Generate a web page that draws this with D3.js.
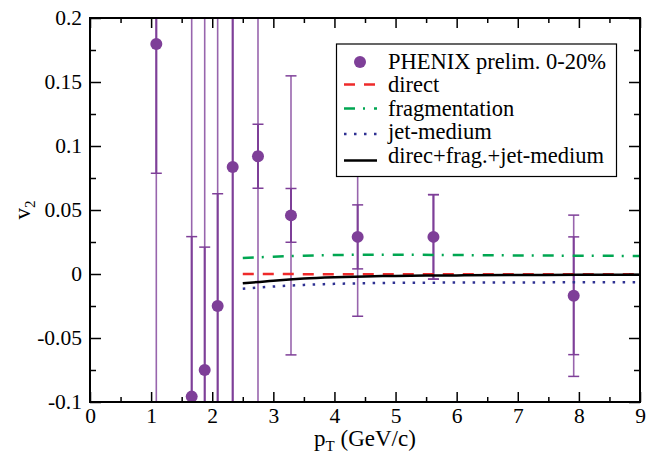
<!DOCTYPE html>
<html>
<head>
<meta charset="utf-8">
<script src="https://cdn.jsdelivr.net/npm/d3@7"></script>
<style>
  body { margin: 0; background: #fff; }
  svg text { font-family: "Liberation Serif", "Times New Roman", serif; fill: #000; }
</style>
</head>
<body>
<svg id="chart" width="653" height="455"></svg>
<script>
"use strict";

// PHENIX prelim. 0-20% (inner = stat, outer = total)
const ptData   = [1.085, 1.664, 1.877, 2.089, 2.335, 2.749, 3.289, 4.38, 5.62, 7.915]
const v2Data   = [0.1797, -0.0958, -0.075, -0.025, 0.0836, 0.092, 0.0458, 0.029, 0.029, -0.017]
const errInner = [0.101, 0.125, 0.096, 0.0877, 0.2, 0.025, 0.021, 0.025, 0.033, 0.046]
const errOuter = [0.35, 0.35, 0.35, 0.35, 0.35, 0.3, 0.109, 0.062, 0.033, 0.063]

// model curves
const ptModel     = [2.5, 3, 3.5, 4, 4.5, 5, 6, 7, 8, 9]
const v2Direct    = [0.0, 0.0, -0.0001, -0.0001, -0.0001, -0.0002, -0.0002, -0.0002, -0.0002, -0.0002]
const v2Frag      = [0.0125, 0.0135, 0.0143, 0.0148, 0.015, 0.015, 0.0148, 0.0145, 0.0143, 0.0141]
const v2JetMedium = [-0.0115, -0.0098, -0.0085, -0.0077, -0.0072, -0.0069, -0.0067, -0.0066, -0.0065, -0.0065]
const v2Total     = [-0.0073, -0.0052, -0.0036, -0.0026, -0.0019, -0.0015, -0.0011, -0.0008, -0.0006, -0.0005]

const xTicks = [0, 1, 2, 3, 4, 5, 6, 7, 8, 9]
const yTicks = [-0.1, -0.05, 0, 0.05, 0.1, 0.15, 0.2]

const legendLabels = ["PHENIX prelim. 0-20%", "direct", "fragmentation", "jet-medium", "direc+frag.+jet-medium"]

const serif = "'Liberation Serif', 'Times New Roman', serif"
const purple = "#7e3f98"
const margin = {top: 18, right: 13, bottom: 53, left: 90}
const width = 653, height = 455

const svg = d3.select("#chart")

const x = d3.scaleLinear().domain([0, 9]).range([margin.left, width - margin.right])
const y = d3.scaleLinear().domain([-0.1, 0.2]).range([height - margin.bottom, margin.top])

svg.append("clipPath").attr("id", "plot-clip")
  .append("rect")
    .attr("x", x(0)).attr("y", y(0.2))
    .attr("width", x(9) - x(0)).attr("height", y(-0.1) - y(0.2))

const fmt = d => d === 0 ? "0" : String(+d.toFixed(2))

// data points
let pts = ptData.map((p, i) => ({pt: p, v: v2Data[i], ei: errInner[i], eo: errOuter[i]}))
let gData = svg.append("g").attr("clip-path", "url(#plot-clip)")

pts.forEach(d => {
  // outer error
  gData.append("line")
    .attr("x1", x(d.pt)).attr("x2", x(d.pt))
    .attr("y1", y(d.v + d.eo)).attr("y2", y(d.v - d.eo))
    .attr("stroke", purple).attr("stroke-opacity", 0.8).attr("stroke-width", 1.6)
  ;[d.v + d.eo, d.v - d.eo].forEach(e => {
    gData.append("line")
      .attr("x1", x(d.pt) - 5.5).attr("x2", x(d.pt) + 5.5)
      .attr("y1", y(e)).attr("y2", y(e))
      .attr("stroke", purple).attr("stroke-width", 1.5)
  })
  // inner error
  gData.append("line")
    .attr("x1", x(d.pt)).attr("x2", x(d.pt))
    .attr("y1", y(d.v + d.ei)).attr("y2", y(d.v - d.ei))
    .attr("stroke", purple).attr("stroke-width", 2)
  ;[d.v + d.ei, d.v - d.ei].forEach(e => {
    gData.append("line")
      .attr("x1", x(d.pt) - 5.5).attr("x2", x(d.pt) + 5.5)
      .attr("y1", y(e)).attr("y2", y(e))
      .attr("stroke", purple).attr("stroke-width", 1.5)
  })
  gData.append("circle")
    .attr("cx", x(d.pt)).attr("cy", y(d.v)).attr("r", 6)
    .attr("fill", purple)
})

// model curves
const curves = [
  {vals: v2Frag,      color: "#00a651", dash: "11,8,2,9", w: 2.5},
  {vals: v2Direct,    color: "#ee2a2a", dash: "11,9",     w: 2.5},
  {vals: v2JetMedium, color: "#2e3192", dash: "2.5,7.5",  w: 2.5},
  {vals: v2Total,     color: "#000000", dash: null,       w: 2.5}
]
let line = d3.line().x(d => x(d[0])).y(d => y(d[1])).curve(d3.curveMonotoneX)
curves.forEach(c => {
  svg.append("path")
    .datum(ptModel.map((p, i) => [p, c.vals[i]]))
    .attr("clip-path", "url(#plot-clip)")
    .attr("fill", "none")
    .attr("stroke", c.color)
    .attr("stroke-width", c.w)
    .attr("stroke-dasharray", c.dash)
    .attr("d", line)
})

// axes: ticks point inward on all four sides
const xMinor = d3.range(0.5, 9, 1)
const yMinor = [-0.075, -0.025, 0.025, 0.075, 0.125, 0.175]

let axB = svg.append("g").attr("transform", `translate(0,${y(-0.1)})`)
axB.call(d3.axisBottom(x).tickValues(xTicks).tickSize(-10).tickPadding(6).tickFormat(d3.format("d")))
axB.append("g").call(d3.axisBottom(x).tickValues(xMinor).tickSize(-5).tickFormat(""))

let axT = svg.append("g").attr("transform", `translate(0,${y(0.2)})`)
axT.call(d3.axisTop(x).tickValues(xTicks).tickSize(-10).tickFormat(""))
axT.append("g").call(d3.axisTop(x).tickValues(xMinor).tickSize(-5).tickFormat(""))

let axL = svg.append("g").attr("transform", `translate(${x(0)},0)`)
axL.call(d3.axisLeft(y).tickValues(yTicks).tickSize(-11).tickPadding(8).tickFormat(fmt))
axL.append("g").call(d3.axisLeft(y).tickValues(yMinor).tickSize(-6).tickFormat(""))

let axR = svg.append("g").attr("transform", `translate(${x(9)},0)`)
axR.call(d3.axisRight(y).tickValues(yTicks).tickSize(-11).tickFormat(""))
axR.append("g").call(d3.axisRight(y).tickValues(yMinor).tickSize(-6).tickFormat(""))

svg.selectAll("g").attr("font-family", null)
svg.selectAll(".domain").remove()
svg.selectAll(".tick line").attr("stroke", "#000").attr("stroke-width", 1.5)
svg.selectAll(".tick text")
  .style("font-family", serif)
  .attr("font-size", 21.5).attr("fill", "#000")

svg.append("rect")
  .attr("x", x(0)).attr("y", y(0.2))
  .attr("width", x(9) - x(0)).attr("height", y(-0.1) - y(0.2))
  .attr("fill", "none").attr("stroke", "#000").attr("stroke-width", 2)

// axis titles
let xt = svg.append("text")
  .attr("x", (x(0) + x(9)) / 2).attr("y", 446)
  .attr("text-anchor", "middle").attr("font-size", 23)
  .style("font-family", serif)
xt.append("tspan").text("p")
xt.append("tspan").attr("font-size", 15).attr("dy", 5).text("T")
xt.append("tspan").attr("dy", -5).text(" (GeV/c)")

let yt = svg.append("text")
  .attr("transform", `translate(30,${(y(0.2) + y(-0.1)) / 2}) rotate(-90)`)
  .attr("text-anchor", "middle").attr("font-size", 23)
  .style("font-family", serif)
yt.append("tspan").text("v")
yt.append("tspan").attr("font-size", 15).attr("dy", 5).text("2")

// legend
let lg = svg.append("g")
lg.append("rect")
  .attr("x", 336.5).attr("y", 44).attr("width", 280).attr("height", 132.5)
  .attr("fill", "#fff").attr("stroke", "#000").attr("stroke-width", 1.2)

const symY = [62, 84.5, 108.5, 134, 160.5]
const textY = [68.5, 92, 115.5, 139, 163]
lg.append("circle").attr("cx", 360).attr("cy", symY[0]).attr("r", 6).attr("fill", purple)
;[v2Direct, v2Frag, v2JetMedium, v2Total].forEach((vals, i) => {
  let c = curves.find(cc => cc.vals === vals)
  lg.append("line")
    .attr("x1", 344).attr("x2", 377)
    .attr("y1", symY[i + 1]).attr("y2", symY[i + 1])
    .attr("stroke", c.color).attr("stroke-width", c.w)
    .attr("stroke-dasharray", c.dash)
})
legendLabels.forEach((t, i) => {
  lg.append("text")
    .attr("x", 388).attr("y", textY[i])
    .attr("font-size", 22.5)
    .style("font-family", serif)
    .text(t)
})
</script>
</body>
</html>
